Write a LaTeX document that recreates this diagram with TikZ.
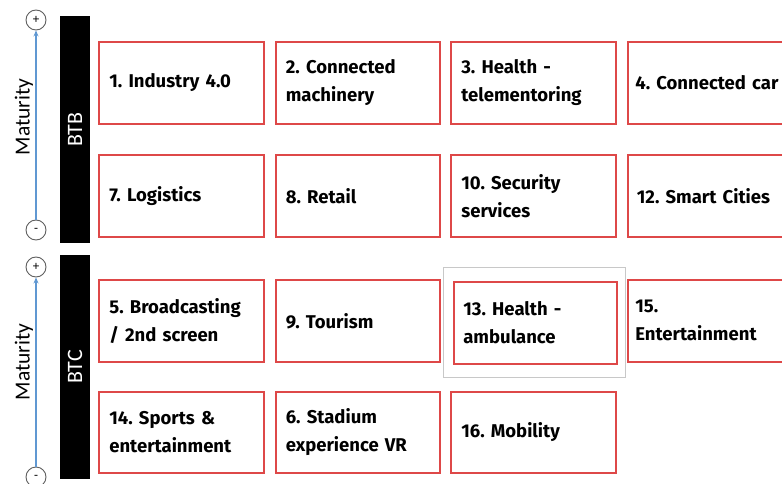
\documentclass[tikz,border=0pt]{standalone}
\usepackage{fontspec}
\setmainfont{Carlito}
\newfontfamily\boxfont{Fira Sans}
\usetikzlibrary{arrows.meta}
\definecolor{boxred}{RGB}{222,72,72}
\definecolor{axisblue}{RGB}{96,152,210}
\definecolor{ringgray}{RGB}{95,95,95}
\definecolor{framegray}{RGB}{200,200,200}
\frenchspacing
\tikzset{
  usecase/.style={draw=boxred, line width=1.7pt, rectangle, anchor=north west,
    inner xsep=10pt, inner ysep=0pt, align=left, text width=#1,
    font=\boxfont\bfseries\fontsize{18.5}{28}\selectfont},
  usecase/.default=144pt,
  barlabel/.style={text=white, rotate=90, inner sep=0pt,
    font=\fontsize{22}{24}\selectfont},
  ring/.style={circle, draw=ringgray, line width=0.9pt, fill=white,
    minimum size=20pt, inner sep=0pt, font=\fontsize{13}{13}\selectfont},
  axis/.style={draw=axisblue, line width=1.2pt, -{Stealth[length=6pt,width=5pt]}},
  axislabel/.style={rotate=90, font=\fontsize{21.5}{24}\selectfont}
}
\begin{document}
\begin{tikzpicture}[x=1pt,y=-1pt]
\useasboundingbox (0,0) rectangle (782,484);
\clip (0,0) rectangle (782,484);

% maturity axes
\node[ring] (p1) at (36,20) {+};
\node[ring] (m1) at (36,230) {-};
\draw[axis] (m1) -- (p1);
\node[axislabel] (mat1) at (24,117) {Maturity};

\node[ring] (p2) at (36,267) {+};
\node[ring] (m2) at (36,477) {-};
\draw[axis] (m2) -- (p2);
\node[axislabel] (mat2) at (24,362) {Maturity};

% segment bars
\fill[black] (60,16) rectangle (90,243);
\node[barlabel] (btb) at (75,129.5) {BTB};
\fill[black] (60,255) rectangle (90,479);
\node[barlabel] (btc) at (75,367) {BTC};

% highlight frame
\draw[framegray, line width=0.7pt] (443,267) rectangle (625,377);

% BTB use cases
\node[usecase, minimum width=165pt, minimum height=82pt] (u1) at (98,41) {1. Industry 4.0};
\node[usecase, minimum width=163pt, minimum height=82pt] (u2) at (275,41) {2. Connected\\machinery};
\node[usecase, minimum width=165pt, minimum height=82pt, inner xsep=8pt] (u3) at (450,41) {3. Health -\\telementoring};
\node[usecase=165pt, minimum width=180pt, minimum height=82pt, inner xsep=6pt] (u4) at (627,41) {4. Connected car};

\node[usecase, minimum width=165pt, minimum height=82pt] (u7) at (98,154) {7. Logistics};
\node[usecase, minimum width=163pt, minimum height=82pt] (u8) at (275,154) {8. Retail};
\node[usecase, minimum width=165pt, minimum height=82pt, inner xsep=8pt] (u10) at (450,154) {10. Security\\services};
\node[usecase=165pt, minimum width=180pt, minimum height=82pt, inner xsep=9pt] (u12) at (627,154) {12. Smart Cities};

% BTC use cases
\node[usecase, minimum width=165pt, minimum height=82pt] (u5) at (98,279) {5. Broadcasting\\/ 2nd screen};
\node[usecase, minimum width=163pt, minimum height=82pt] (u9) at (275,279) {9. Tourism};
\node[usecase, minimum width=163pt, minimum height=82pt, inner xsep=5pt] (u13) at (453,281) {13. Health -\\ambulance};
\node[usecase=165pt, minimum width=180pt, minimum height=82pt, inner xsep=6pt] (u15) at (627,279) {15.\\Entertainment};

\node[usecase, minimum width=165pt, minimum height=81pt] (u14) at (98,391) {14. Sports \&\\entertainment};
\node[usecase, minimum width=163pt, minimum height=81pt] (u6) at (275,391) {6. Stadium\\experience VR};
\node[usecase, minimum width=165pt, minimum height=81pt, inner xsep=9pt] (u16) at (450,391) {16. Mobility};
\end{tikzpicture}
\end{document}
